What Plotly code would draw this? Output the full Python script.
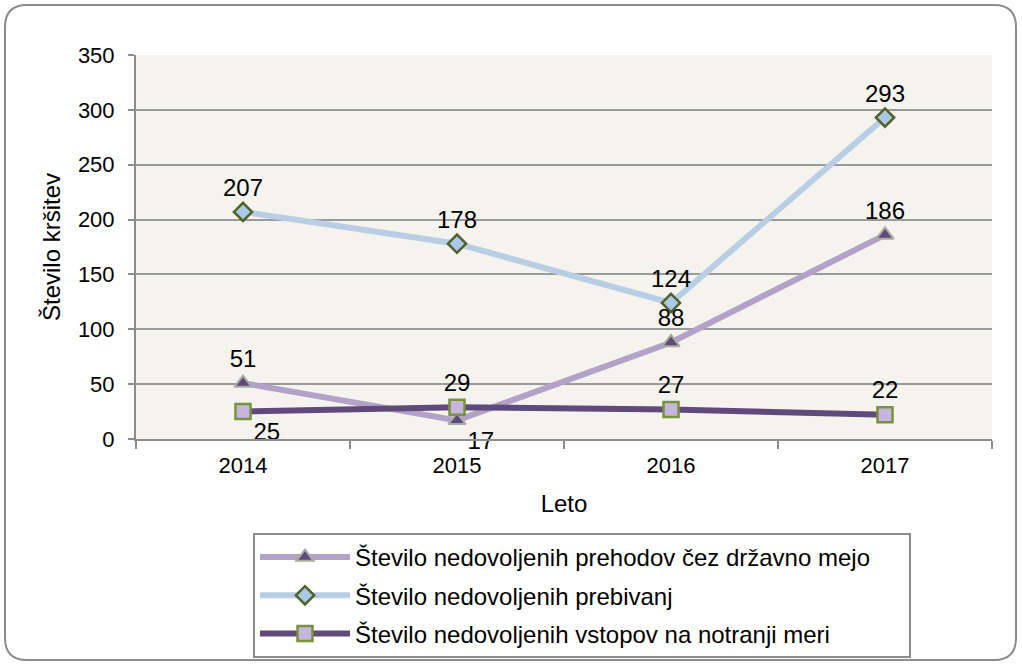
import plotly.graph_objects as go

years = ["2014", "2015", "2016", "2017"]
prehodi = [51, 17, 88, 186]
prebivanja = [207, 178, 124, 293]
vstopi = [25, 29, 27, 22]

names = [
    "Število nedovoljenih prehodov čez državno mejo" + "\u00a0" * 5,
    "Število nedovoljenih prebivanj",
    "Število nedovoljenih vstopov na notranji meri",
]

font = "Liberation Sans, Arial, sans-serif"

fig = go.Figure()
fig.add_trace(go.Scatter(
    x=years, y=prehodi, name=names[0], legendgroup="a",
    mode="lines+markers+text", text=[str(v) for v in prehodi],
    textposition=["top center", "bottom right", "top center", "top center"],
    textfont=dict(size=24),
    line=dict(color="#B3A2C7", width=6),
    marker=dict(symbol="triangle-up", size=15, color="#5F4A7B", line=dict(color="#A8ADA0", width=2)),
    cliponaxis=False,
))
fig.add_trace(go.Scatter(
    x=years, y=prebivanja, name=names[1], legendgroup="b",
    mode="lines+markers+text", text=[str(v) for v in prebivanja],
    textposition="top center",
    textfont=dict(size=24),
    line=dict(color="#B9CDE5", width=6),
    marker=dict(symbol="diamond", size=14, color="#A9C8E8", line=dict(color="#4F6228", width=2.5)),
    cliponaxis=False,
))
fig.add_trace(go.Scatter(
    x=years, y=vstopi, name=names[2], legendgroup="c",
    mode="lines+markers+text", text=[str(v) for v in vstopi],
    textposition=["bottom right", "top center", "top center", "top center"],
    textfont=dict(size=24),
    line=dict(color="#604A7B", width=6),
    marker=dict(symbol="square", size=15, color="#C6B5DC", line=dict(color="#77933C", width=2.5)),
    cliponaxis=False,
))

# rounded chart border in paper coords (plot area 136..992 x, 55..439 y)
def px(x):
    return (x - 136) / 856

def py(y):
    return (439 - y) / 384

L, T, R, B, r = 5, 5, 1016, 660, 22
path = (
    f"M {px(L + r)} {py(T)} L {px(R - r)} {py(T)} Q {px(R)} {py(T)} {px(R)} {py(T + r)} "
    f"L {px(R)} {py(B - r)} Q {px(R)} {py(B)} {px(R - r)} {py(B)} "
    f"L {px(L + r)} {py(B)} Q {px(L)} {py(B)} {px(L)} {py(B - r)} "
    f"L {px(L)} {py(T + r)} Q {px(L)} {py(T)} {px(L + r)} {py(T)} Z"
)

fig.update_layout(
    width=1022, height=666,
    margin=dict(l=136, r=30, t=55, b=227, autoexpand=False),
    paper_bgcolor="white",
    plot_bgcolor="#F4F3EE",
    font=dict(family=font, size=20, color="black"),
    shapes=[dict(type="path", path=path, xref="paper", yref="paper",
                 line=dict(color="#8C8C8C", width=2), layer="below")],
    xaxis=dict(
        type="category", range=[-0.5, 3.5], tickson="boundaries", ticks="outside", ticklen=8,
        tickcolor="#8C8C8C", tickwidth=2, showgrid=False,
        showline=True, linecolor="#8C8C8C", linewidth=2,
        title=dict(text="Leto", standoff=18),
        tickfont=dict(size=22), ticklabelstandoff=6,
    ),
    yaxis=dict(
        range=[0, 350], tick0=0, dtick=50, ticks="outside", ticklen=6,
        tickcolor="#8C8C8C", tickwidth=2,
        showgrid=True, gridcolor="#9A9A9A", gridwidth=1.5,
        showline=True, linecolor="#8C8C8C", linewidth=2,
        zeroline=False,
        title=dict(text="Število kršitev", standoff=10),
        tickfont=dict(size=22), ticklabelstandoff=9,
    ),
    legend=dict(
        x=px(253), y=py(533), xanchor="left", yanchor="top",
        bordercolor="#8C8C8C", borderwidth=2, bgcolor="white",
        font=dict(size=24), tracegroupgap=4, itemwidth=90,
    ),
    showlegend=True,
)

fig.write_html("out.html", config={"displayModeBar": False},
               post_script="document.body.style.margin='0';")
